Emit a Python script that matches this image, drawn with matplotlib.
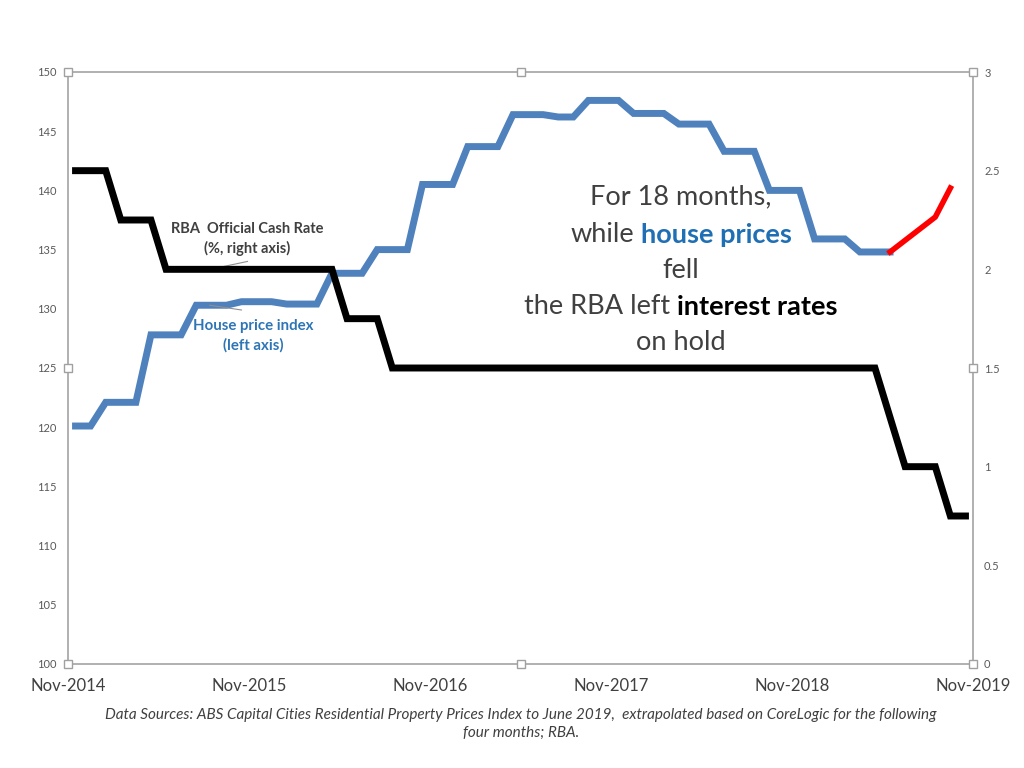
import numpy as np
import matplotlib.pyplot as plt

plt.rcParams['font.family'] = ['Lato', 'DejaVu Sans']

# month index 0 = Nov-2014
x_labels = ['Nov-2014', 'Nov-2015', 'Nov-2016', 'Nov-2017', 'Nov-2018', 'Nov-2019']

# house price index (left axis), monthly, ABS quarterly values repeated
house_idx = ([120.1] * 2 + [122.1] * 3 + [127.8] * 3 + [130.3] * 3 + [130.6] * 3 +
             [130.4] * 3 + [133.0] * 3 + [135.0] * 3 + [140.5] * 3 + [143.7] * 3 +
             [146.4] * 3 + [146.2] * 2 + [147.6] * 3 + [146.5] * 3 + [145.6] * 3 +
             [143.3] * 3 + [140.0] * 3 + [135.9] * 3 + [134.8] * 3)
# extrapolated part (CoreLogic)
extra_months = [54, 57, 58]
extra_idx = [134.8, 137.75, 140.2]

# RBA cash rate (right axis), monthly
cash_rate = ([2.5] * 3 + [2.25] * 3 + [2.0] * 12 + [1.75] * 3 + [1.5] * 33 +
             [1.25] + [1.0] * 3 + [0.75] * 2)

months_h = np.arange(len(house_idx))
months_c = np.arange(len(cash_rate))

fig = plt.figure(figsize=(10.24, 7.68), dpi=100)
ax = fig.add_axes([68 / 1024, 1 - 664 / 768, 905 / 1024, 592 / 768])
ax2 = ax.twinx()

blue = '#4F81BD'
ax.plot(months_h, house_idx, color=blue, lw=5, solid_joinstyle='miter', zorder=3)
ax.plot(extra_months, extra_idx, color='#FF0000', lw=4, zorder=3)
ax2.plot(months_c, cash_rate, color='black', lw=5, solid_joinstyle='miter', zorder=3)

ax.set_xlim(-0.5, 59.5)
ax.set_ylim(100, 150)
ax2.set_ylim(0, 3)
ax.set_xticks(np.arange(-0.5, 60, 12))
ax.set_xticklabels(x_labels, fontsize=12, color='#404040')
ax.set_yticks(np.arange(100, 151, 5))
ax.tick_params(axis='y', labelsize=8, colors='#595959', length=0, pad=8)
ax.tick_params(axis='x', length=0, pad=10)
ax2.set_yticks(np.arange(0, 3.01, 0.5))
ax2.set_yticklabels(['0', '0.5', '1', '1.5', '2', '2.5', '3'])
ax2.tick_params(axis='y', labelsize=8, colors='#595959', length=0, pad=8)

for a in (ax, ax2):
    for s in a.spines.values():
        s.set_color('#B0B0B0')
        s.set_linewidth(1.2)

# excel selection handles
hx = [0, 0.5, 1, 0, 1, 0, 0.5, 1]
hy = [1, 1, 1, 0.5, 0.5, 0, 0, 0]
ax2.plot(hx, hy, 's', transform=ax2.transAxes, ms=6, mfc='white', mec='#A0A0A0',
         mew=1, clip_on=False, zorder=5)

# series labels with leader lines
ax.text(11.4, 135.9, 'RBA  Official Cash Rate\n(%, right axis)', fontsize=10.5,
        fontweight='bold', color='#404040', ha='center', va='center', linespacing=1.4)
ax.plot([8.8, 11.4], [133.3, 134.0], color='#909090', lw=0.8, zorder=4)
ax.text(11.8, 127.7, 'House price index\n(left axis)', fontsize=10.8, fontweight='bold',
        color='#2E75B6', ha='center', va='center', linespacing=1.4)
ax.plot([8.9, 11.0], [130.3, 129.9], color='#909090', lw=0.8, zorder=4)

# big message, mixed styles per line
renderer = fig.canvas.get_renderer()
grey = '#404040'
lines = [
    (197, [('For 18 months,', grey, 'normal')]),
    (235, [('while', grey, 'normal'), ('house prices', '#1F6FB5', 'bold')]),
    (270, [('fell', grey, 'normal')]),
    (307, [('the RBA left', grey, 'normal'), ('interest rates', 'black', 'bold')]),
    (342, [('on hold', grey, 'normal')]),
]
size = 19.5
gap = 0.25 * size * 100 / 72
cx = 681
for ypix, parts in lines:
    ts = [fig.text(0, 1 - ypix / 768, s, fontsize=size, color=c, fontweight=w,
                   ha='left', va='center') for s, c, w in parts]
    ws = [t.get_window_extent(renderer).width for t in ts]
    total = sum(ws) + gap * (len(ws) - 1)
    x0 = cx - total / 2
    for t, w in zip(ts, ws):
        t.set_x(x0 / 1024)
        x0 += w + gap

fig.text(521 / 1024, 1 - 724 / 768,
         'Data Sources: ABS Capital Cities Residential Property Prices Index to June 2019,  '
         'extrapolated based on CoreLogic for the following\nfour months; RBA.',
         fontsize=11, style='italic', color='#404040', ha='center', va='center',
         linespacing=1.35)

plt.savefig('out.png')
